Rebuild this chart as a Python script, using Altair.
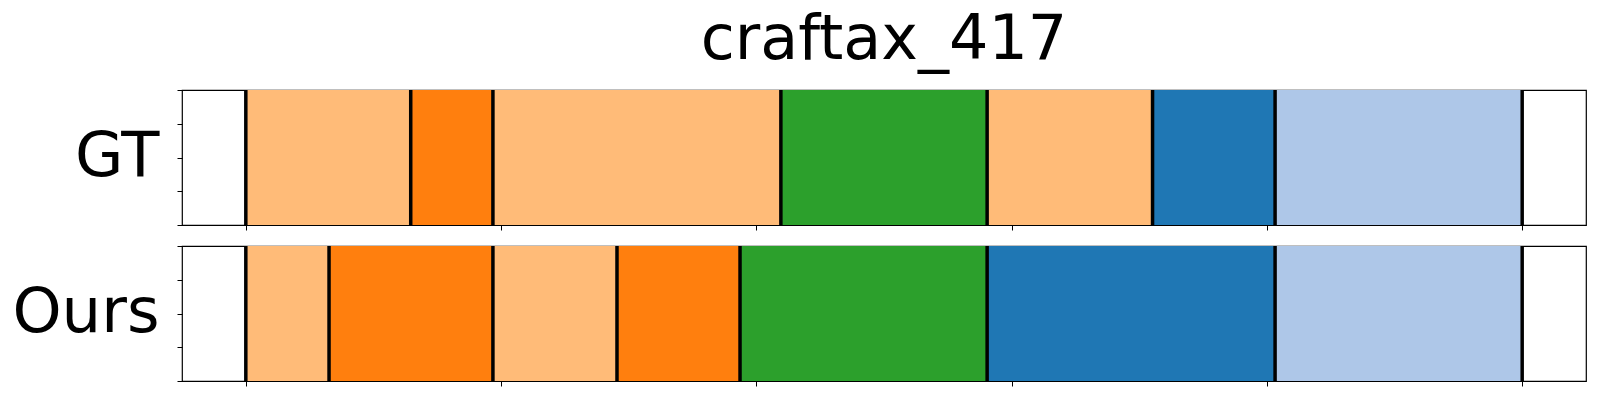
import altair as alt
import pandas as pd

# ---- data ----
title_text = "craftax_417"
row_names = ["GT", "Ours"]
gt_bounds = [0, 32.3, 48.4, 104.8, 145.2, 177.6, 201.6, 250]
gt_labels = ["A", "B", "A", "C", "A", "D", "E"]
ours_bounds = [0, 16.3, 48.4, 72.7, 96.8, 145.2, 201.6, 250]
ours_labels = ["A", "B", "A", "B", "C", "D", "E"]
class_names = ["A", "B", "C", "D", "E"]
class_colors = ["#ffbb78", "#ff7f0e", "#2ca02c", "#1f77b4", "#aec7e8"]
x_ticks = [0, 50, 100, 150, 200, 250]
y_ticks = [0, 0.25, 0.5, 0.75, 1]
x_domain = [-12.5, 262.5]

FONT = "DejaVu Sans"
W, H = 1404, 135


def panel(name, bounds, labels, with_title=False):
    seg = pd.DataFrame({
        "start": bounds[:-1],
        "end": bounds[1:],
        "cls": labels,
        "y0": [0] * len(labels),
        "y1": [1] * len(labels),
    })
    lines = pd.DataFrame({"b": bounds})
    xscale = alt.Scale(domain=x_domain, nice=False, zero=False)
    xaxis = alt.Axis(values=x_ticks, labels=False, ticks=True, tickSize=5,
                     tickColor="black", tickWidth=1, domain=False, grid=False,
                     title=None)
    rects = alt.Chart(seg).mark_rect(strokeWidth=0).encode(
        x=alt.X("start:Q", scale=xscale, axis=xaxis),
        x2="end:Q",
        y=alt.Y("y0:Q", scale=alt.Scale(domain=[0, 1], nice=False),
                axis=alt.Axis(values=y_ticks, labels=False, tickSize=5,
                              tickColor="black", tickWidth=1, domain=False,
                              grid=False, title=name, titleAngle=0,
                              titleAlign="right", titleBaseline="alphabetic",
                              titleX=-23, titleY=85, titleFontSize=62.5,
                              titleFont=FONT, titleFontWeight="normal",
                              titleColor="black")),
        y2="y1:Q",
        color=alt.Color("cls:N", scale=alt.Scale(domain=class_names,
                                                 range=class_colors),
                        legend=None),
    )
    rules = alt.Chart(lines).mark_rule(color="black", strokeWidth=3.5).encode(
        x=alt.X("b:Q", scale=xscale, axis=xaxis)
    )
    ch = alt.layer(rects, rules).properties(width=W, height=H)
    if with_title:
        ch = ch.properties(title=alt.TitleParams(
            title_text, fontSize=62, font=FONT, fontWeight="normal",
            anchor="middle", frame="group", offset=16, color="black"))
    return ch


chart = alt.vconcat(
    panel(row_names[0], gt_bounds, gt_labels, with_title=True),
    panel(row_names[1], ours_bounds, ours_labels),
    spacing=11,
).properties(
    padding={"left": 3, "top": 0, "right": 5, "bottom": 5}
).configure(
    background="white"
).configure_view(
    stroke="black", strokeWidth=1.2
)

chart.save("out.html", embed_options={"renderer": "svg", "actions": False})
